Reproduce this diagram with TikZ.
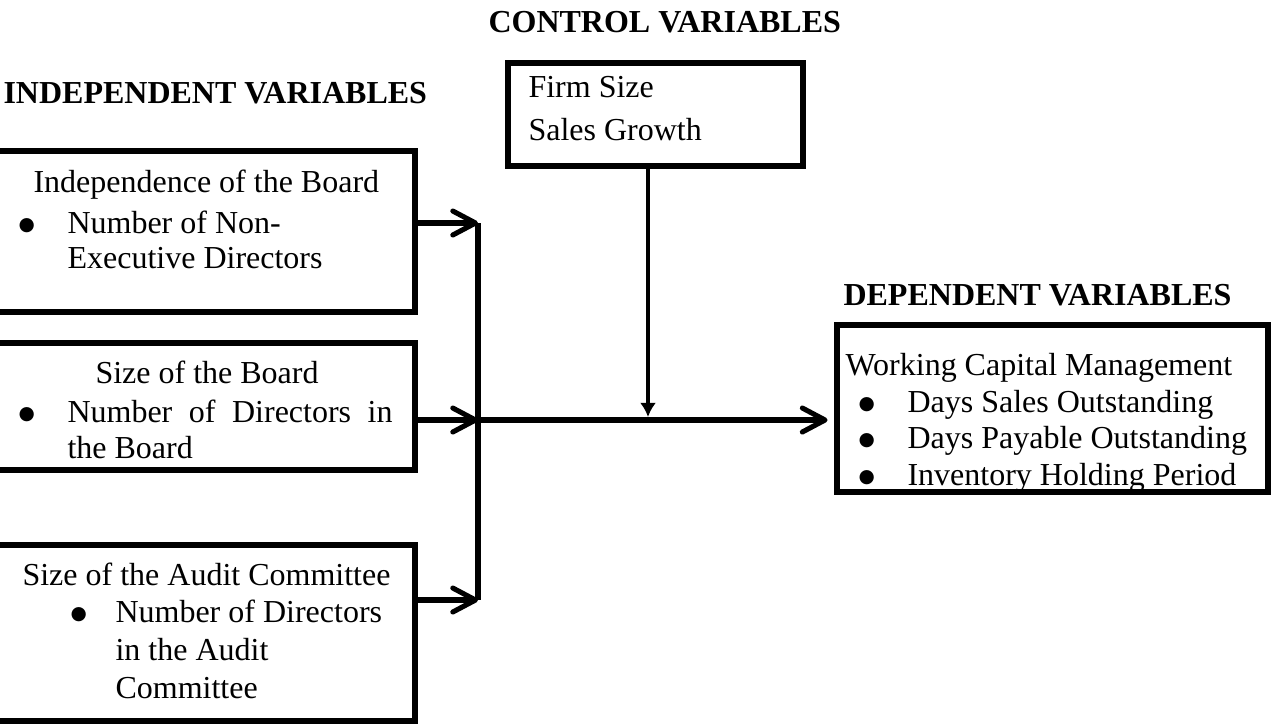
\documentclass[tikz,border=0pt]{standalone}
\usepackage{fontspec}
\setmainfont{Liberation Serif}
\newfontfamily\dotfont{DejaVu Sans}
\usetikzlibrary{arrows.meta,fit}

\begin{document}
\begin{tikzpicture}[x=0.375pt, y=-0.375pt, font=\fontsize{12}{14}\selectfont,
	box/.style={draw, line width=1.9pt, inner sep=0pt},
	txt/.style={anchor=base west, inner sep=0pt},
	head/.style={txt, font=\fontsize{12}{14}\selectfont\bfseries},
	bul/.style={txt, font=\dotfont\fontsize{7}{8}\selectfont},
	link/.style={line width=1.9pt, -{Straight Barb[length=8.5pt,width=9pt,line cap=round,line join=round]}}]
	\clip (0,0) rectangle (1271,727);
	%boxes
	\node[box, fit={(-10,151) (415,312)}] (ind1) {};
	\node[box, fit={(-10,343) (415,470)}] (ind2) {};
	\node[box, fit={(-10,545) (415,721)}] (ind3) {};
	\node[box, fit={(508,63) (803,166)}] (ctrl) {};
	\node[box, fit={(837,325) (1268,492)}] (dep) {};
	%headings
	\foreach \x/\y/\t [count=\i] in {
		488/32/CONTROL VARIABLES,
		3/103/INDEPENDENT VARIABLES,
		843/305/DEPENDENT VARIABLES
	}
	\node[head] (h\i) at (\x,\y) {\t};
	%box texts
	\foreach \x/\y/\t [count=\i] in {
		33/192/Independence of the Board,
		67/233/Number of Non-,
		67/268/Executive Directors,
		95/383/Size of the Board,
		67/422/{\makebox[121.9pt][s]{Number of Directors in}},
		67/458/the Board,
		22/585/Size of the Audit Committee,
		115/622/Number of Directors,
		115/660/in the Audit,
		115/698/Committee,
		528/97/Firm Size,
		528/140/Sales Growth,
		845/375/Working Capital Management,
		907/412/Days Sales Outstanding,
		907/448/Days Payable Outstanding,
		907/485/Inventory Holding Period
	}
	\node[txt] (t\i) at (\x,\y) {\t};
	%bullets
	\foreach \x/\y [count=\i] in {18/230, 18/419, 70/619, 858/409, 858/445, 858/482}
	\node[bul] (b\i) at (\x,\y) {●};
	%arrows
	\coordinate (top) at (478,223);
	\coordinate (mid) at (478,420);
	\coordinate (bot) at (478,600);
	\coordinate (drop) at (648,417);
	\draw[line width=1.9pt] (top) -- (bot);
	\draw[link] (ind1.east |- top) -- (top);
	\draw[link] (ind2.east |- mid) -- (mid);
	\draw[link] (ind3.east |- bot) -- (bot);
	\draw[link, shorten >=2.6pt] (mid) -- (dep.west |- mid);
	\draw[line width=1.2pt, -{Latex[length=5.3pt,width=6pt]}] (ctrl.south -| drop) -- (drop);
\end{tikzpicture}
\end{document}
